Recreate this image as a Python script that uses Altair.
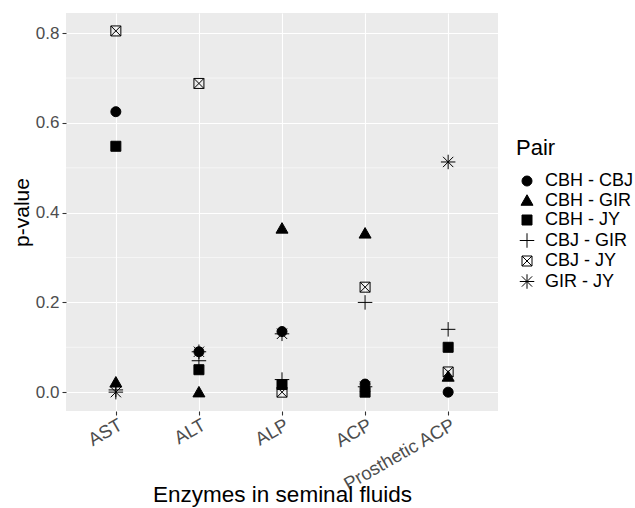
import altair as alt
import pandas as pd

enzymes = ["AST", "ALT", "ALP", "ACP", "Prosthetic ACP"]
pairs = ["CBH - CBJ", "CBH - GIR", "CBH - JY", "CBJ - GIR", "CBJ - JY", "GIR - JY"]

cbh_cbj = [0.625, 0.090, 0.135, 0.018, 0.000]
cbh_gir = [0.022, 0.000, 0.365, 0.354, 0.035]
cbh_jy = [0.548, 0.050, 0.017, 0.000, 0.100]
cbj_gir = [0.005, 0.070, 0.028, 0.200, 0.140]
cbj_jy = [0.805, 0.688, 0.000, 0.234, 0.045]
gir_jy = [0.000, 0.090, 0.130, 0.012, 0.513]

y_breaks = [0.0, 0.2, 0.4, 0.6, 0.8]
minor_breaks = [0.1, 0.3, 0.5, 0.7]

series = [cbh_cbj, cbh_gir, cbh_jy, cbj_gir, cbj_jy, gir_jy]
rows = []
for p, vals in zip(pairs, series):
    for e, v in zip(enzymes, vals):
        rows.append({"Enzyme": e, "Pair": p, "p": v})
df = pd.DataFrame(rows)
minor_df = pd.DataFrame({"v": minor_breaks})

shapes = [
    "circle",
    "M0,-1.15L1.2,0.95L-1.2,0.95Z",
    "square",
    "M-1.45,0H1.45M0,-1.45V1.45",
    "M-1,-1H1V1H-1ZM-1,-1L1,1M-1,1L1,-1",
    "M-1.45,0H1.45M0,-1.45V1.45M-1.03,-1.03L1.03,1.03M-1.03,1.03L1.03,-1.03",
]
fills = ["black", "black", "black", "transparent", "transparent", "transparent"]
strokes = ["black"] * 6

FONT = "Liberation Sans"
yscale = alt.Scale(domain=[-0.042, 0.845], nice=False, zero=False)
yaxis = alt.Axis(
    values=y_breaks, format=".1f", title="p-value",
    grid=True, gridColor="white", gridWidth=1.1,
    domain=False, ticks=True, tickColor="#333333", tickSize=4, tickWidth=1.1,
    labelColor="#4D4D4D", labelFontSize=17, labelPadding=3, labelFont=FONT,
    titleFont=FONT, titleFontSize=21, titleFontWeight="normal", titleColor="black",
    titleX=-38, titleBaseline="alphabetic",
)

minor = alt.Chart(minor_df).mark_rule(color="white", strokeWidth=0.55).encode(
    y=alt.Y("v:Q", scale=yscale, axis=yaxis)
)

legend = alt.Legend(title="Pair")
points = alt.Chart(df).mark_point(size=100, strokeWidth=1, opacity=1).encode(
    x=alt.X(
        "Enzyme:N",
        sort=enzymes,
        scale=alt.Scale(type="point", padding=0.6),
        axis=alt.Axis(
            title="Enzymes in seminal fluids",
            grid=True, gridColor="white", gridWidth=1.1,
            domain=False, ticks=True, tickColor="#333333", tickSize=4, tickWidth=1.1,
            labelAngle=-30, labelAlign="right", labelBaseline="top",
            labelColor="#4D4D4D", labelFontSize=18.5, labelPadding=0, labelFont=FONT,
            titleFont=FONT, titleFontSize=22.5, titleFontWeight="normal", titleColor="black",
            titleY=90, titleBaseline="alphabetic",
        ),
    ),
    y=alt.Y("p:Q", scale=yscale, axis=yaxis),
    shape=alt.Shape("Pair:N", sort=pairs, scale=alt.Scale(domain=pairs, range=shapes), legend=legend),
    fill=alt.Fill("Pair:N", sort=pairs, scale=alt.Scale(domain=pairs, range=fills), legend=legend),
    stroke=alt.Stroke("Pair:N", sort=pairs, scale=alt.Scale(domain=pairs, range=strokes), legend=legend),
)

chart = alt.layer(minor, points).properties(
    width=432,
    height=398,
    padding={"left": 66, "top": 13, "right": 137, "bottom": 97},
    autosize=alt.AutoSizeParams(type="none"),
    background="white",
).configure_view(
    fill="#EBEBEB", stroke=None
).configure_legend(
    orient="none", legendX=450, legendY=125,
    titleFont=FONT, titleFontSize=22, titleFontWeight="normal", titleColor="black",
    titleBaseline="top", titlePadding=12,
    labelFont=FONT, labelFontSize=18, labelColor="black",
    symbolSize=100, symbolStrokeWidth=1,
    symbolOffset=2, labelOffset=9, rowPadding=1.5, padding=0,
)

chart.save("out.html", embed_options={"renderer": "svg", "actions": False})
